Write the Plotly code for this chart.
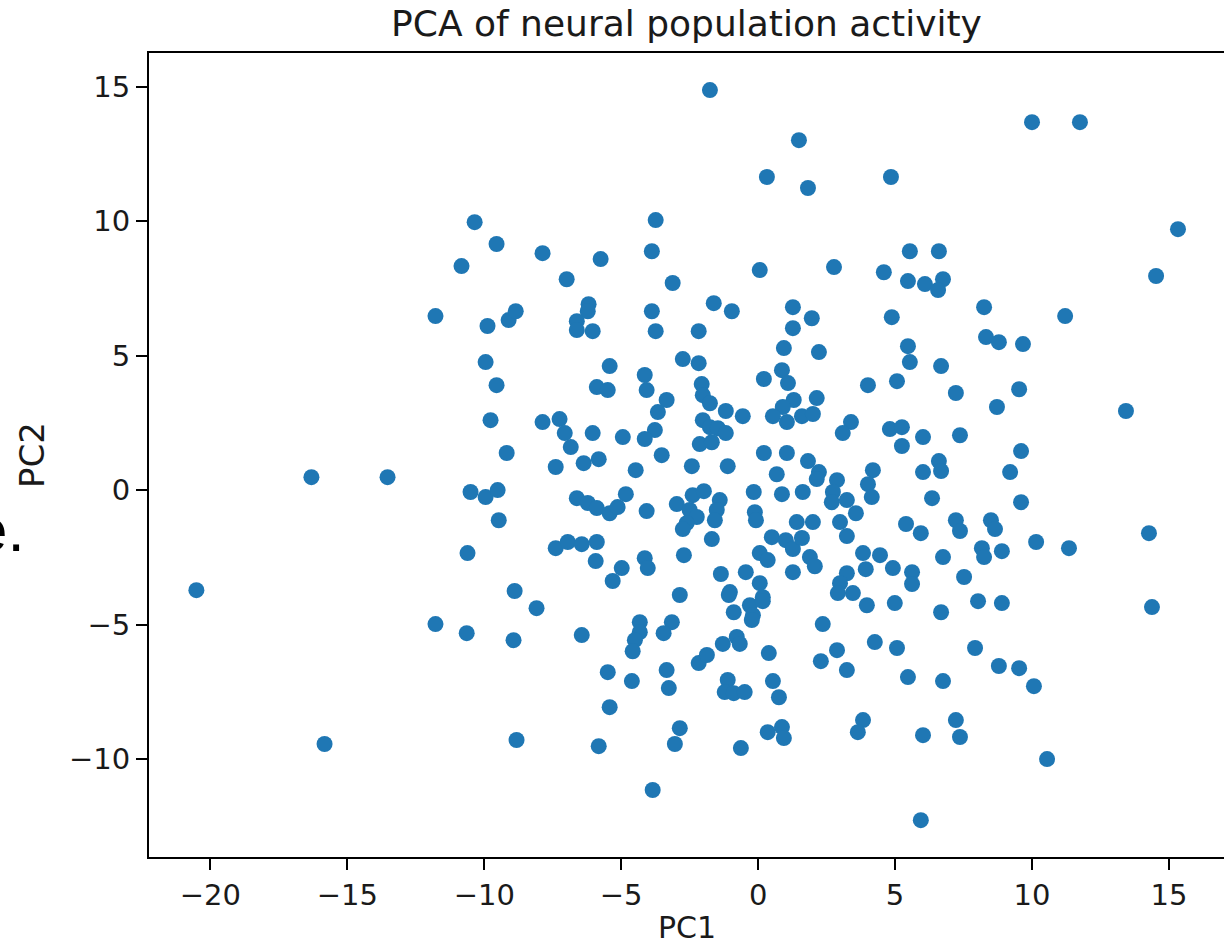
import plotly.graph_objects as go

# PC1 / PC2 values
pc1 = [-10.35, -9.55, -10.83, -11.78, -9.88, -9.11, -1.76, 1.49, 0.32, 1.82,
       -3.74, -7.87, -5.75, -6.99, -3.88, -3.12, 0.06, 2.77, -8.85, -6.19,
       -6.22, -6.62, -6.62, -6.04, -3.88, -3.74, -1.62, -0.96, -2.17, 1.27,
       1.96, 1.27, 10.00, 11.75, 4.85, 15.33, 5.54, 6.60, 4.59, 5.47,
       6.09, 6.75, 6.57, 14.53, 8.25, 11.21, 4.88, -9.95, -9.55, -9.77,
       -9.18, -16.31, -13.53, -10.50, -9.95, -9.51, -9.47, -10.61, -20.51, 0.94,
       2.22, -2.75, -2.17, -5.42, -4.14, -4.07, -5.89, -5.49, -2.06, -2.02,
       -1.76, 0.21, 0.87, 1.09, 4.01, -3.34, -3.66, -1.18, -0.56, 1.30,
       2.14, 0.90, 0.54, 1.05, 1.60, 2.00, 3.39, 3.09, -7.87, -7.25,
       -7.06, -6.84, -6.04, -4.94, -3.77, -4.14, -2.02, -1.76, -1.47, -1.18,
       -2.13, -1.69, -3.52, 0.21, 1.05, 1.82, 2.22, 2.14, 2.88, 2.73,
       2.69, 3.24, 3.57, 2.99, 3.24, -7.39, -6.37, -5.82, -4.47, -2.42,
       -1.11, 0.68, -0.16, 0.87, 1.63, -6.62, -6.22, -5.89, -5.42, -5.13,
       -4.83, -4.07, -2.97, -2.39, -1.98, -1.40, -1.51, -1.58, -2.50, -2.24,
       -2.61, -2.75, -0.12, -0.08, 1.41, 2.00, -1.69, 0.50, 1.01, 1.27,
       1.60, -7.39, -6.95, -6.44, -5.89, -5.93, -4.98, -5.31, -4.14, -4.03,
       -2.71, 0.06, 0.35, 1.89, 2.07, 1.27, -1.36, -0.45, 0.06, -1.03,
       0.17, -2.86, -8.89, 3.24, 2.99, 3.46, 3.83, 3.93, 8.32, 8.79,
       9.67, 5.47, 5.54, 6.68, 5.07, 7.22, 9.53, 8.72, 13.43, 4.81,
       5.25, 5.25, 6.02, 7.37, 9.60, 4.19, 4.01, 4.15, 6.02, 6.60,
       6.68, 9.20, 6.35, 9.60, 5.40, 5.94, 7.22, 7.37, 8.50, 8.65,
       10.15, 11.35, 14.27, 4.45, 4.92, 5.62, 5.62, 6.75, 7.52, 8.17,
       8.25, 8.90, 3.97, 4.99, 6.68, 8.03, 8.90, 14.38, 4.26, 5.07,
       7.92, 8.79, 9.53, 5.47, 6.75, 10.07, 3.83, 3.64, 7.22, 6.02,
       7.37, 10.55, 5.94, -8.09, -8.93, -6.44, -4.32, -4.32, -4.50, -4.58,
       -3.15, -3.45, -1.07, -0.89, -0.30, 0.17, -0.19, -0.23, -1.29, -0.78,
       -0.67, -2.17, -1.87, 0.39, -5.49, -4.61, -3.34, -3.26, -1.11, -1.22,
       -0.89, -0.49, 0.54, 0.76, -5.42, 2.36, 2.88, 2.29, 3.24, 2.91,
       -2.86, -3.04, 0.35, 0.87, 0.94, -8.82, -5.82, -0.63, -3.85, -11.78,
       -10.64, -15.83]

pc2 = [9.96, 9.15, 8.33, 6.47, 6.10, 6.32, 14.87, 13.01, 11.64, 11.23,
       10.04, 8.81, 8.59, 7.84, 8.88, 7.70, 8.18, 8.29, 6.65, 6.91,
       6.65, 6.28, 5.95, 5.91, 6.65, 5.91, 6.95, 6.65, 5.91, 6.80,
       6.39, 6.02, 13.68, 13.68, 11.64, 9.70, 8.88, 8.88, 8.10, 7.77,
       7.66, 7.84, 7.44, 7.96, 6.80, 6.47, 6.43, 4.76, 3.90, 2.60,
       1.38, 0.48, 0.48, -0.07, -0.26, 0.00, -1.12, -2.34, -3.72, 5.28,
       5.13, 4.87, 4.72, 4.61, 4.28, 3.72, 3.83, 3.72, 3.94, 3.53,
       3.23, 4.13, 4.46, 3.98, 3.90, 3.35, 2.90, 2.94, 2.75, 3.35,
       3.42, 3.09, 2.75, 2.53, 2.75, 2.83, 2.53, 2.12, 2.53, 2.64,
       2.12, 1.60, 2.12, 1.97, 2.23, 1.90, 2.60, 2.34, 2.30, 2.12,
       1.71, 1.78, 1.30, 1.38, 1.38, 1.08, 0.67, 0.41, 0.37, -0.07,
       -0.45, -0.37, -0.86, -1.19, -1.71, 0.86, 1.00, 1.15, 0.74, 0.89,
       0.89, 0.59, -0.07, -0.15, -0.07, -0.30, -0.48, -0.67, -0.86, -0.63,
       -0.15, -0.78, -0.52, -0.19, -0.04, -0.37, -0.74, -1.12, -0.74, -1.00,
       -1.23, -1.45, -0.82, -1.12, -1.19, -1.19, -1.82, -1.75, -1.86, -2.19,
       -1.78, -2.16, -1.93, -2.01, -1.93, -2.64, -2.90, -3.38, -2.53, -2.90,
       -2.42, -2.34, -2.60, -2.49, -2.83, -3.05, -3.12, -3.05, -3.46, -3.79,
       -3.98, -3.90, -3.75, -3.09, -3.46, -3.83, -2.34, -2.94, 5.69, 5.50,
       5.43, 5.35, 4.76, 4.61, 4.05, 3.61, 3.75, 3.09, 2.94, 2.27,
       2.34, 1.64, 1.97, 2.04, 1.45, 0.74, 0.22, -0.26, 0.67, 1.08,
       0.71, 0.67, -0.30, -0.45, -1.26, -1.60, -1.12, -1.52, -1.12, -1.45,
       -1.93, -2.16, -1.60, -2.42, -2.90, -3.05, -3.49, -2.49, -3.23, -2.16,
       -2.49, -2.27, -4.28, -4.20, -4.54, -4.13, -4.20, -4.35, -5.65, -5.87,
       -5.87, -6.54, -6.62, -6.95, -7.10, -7.29, -8.55, -9.00, -8.55, -9.11,
       -9.18, -10.00, -12.27, -4.39, -5.58, -5.39, -4.91, -5.28, -5.58, -5.99,
       -4.91, -5.32, -3.90, -4.54, -4.28, -4.13, -4.65, -4.83, -5.72, -5.46,
       -5.72, -6.43, -6.13, -6.06, -6.77, -7.10, -6.69, -7.36, -7.06, -7.51,
       -7.55, -7.51, -7.10, -7.70, -8.07, -4.98, -5.95, -6.36, -6.69, -3.83,
       -8.85, -9.44, -9.00, -8.81, -9.22, -9.29, -9.52, -9.59, -11.15, -4.98,
       -5.32, -9.44]

x_ticks = [-20, -15, -10, -5, 0, 5, 10, 15]
y_ticks = [-10, -5, 0, 5, 10, 15]

fig = go.Figure(
    go.Scatter(
        x=pc1, y=pc2, mode="markers",
        marker=dict(size=16, color="#1f77b4", line=dict(width=0)),
        showlegend=False,
    )
)

axis_common = dict(
    showgrid=False, zeroline=False, showline=True, linecolor="black",
    linewidth=2, ticks="outside", ticklen=11, tickwidth=2, tickcolor="black",
    automargin=False,
    tickfont=dict(family="DejaVu Sans", size=29, color="#1a1a1a"),
)

fig.update_layout(
    width=1224, height=947,
    margin=dict(l=149, r=0, t=53, b=90, autoexpand=False),
    paper_bgcolor="white", plot_bgcolor="white",
    font=dict(family="DejaVu Sans", size=28, color="#1a1a1a"),
    title=dict(text="PCA of neural population activity",
               font=dict(family="DejaVu Sans", size=36, color="#1a1a1a"),
               x=0.5, xref="paper", xanchor="center",
               y=1 - 23 / 947, yref="container", yanchor="middle"),
    xaxis=dict(range=[-22.24, 17.01], tickvals=x_ticks, mirror=True,
               **axis_common),
    yaxis=dict(range=[-13.64, 16.25], tickvals=y_ticks, mirror=False,
               title=dict(text="PC2", standoff=14), **axis_common),
    annotations=[
        dict(text="PC1", xref="paper", yref="paper", x=0.5,
             y=(857 - 927) / 804, xanchor="center", yanchor="middle",
             showarrow=False,
             font=dict(family="DejaVu Sans", size=30, color="#1a1a1a")),
        dict(text="e.", xref="paper", yref="paper",
             x=-178 / 1075, y=(857 - 566) / 804,
             xanchor="left", yanchor="bottom", showarrow=False,
             font=dict(family="Liberation Sans", size=62, color="black")),
    ],
)

fig.write_html("out.html")
